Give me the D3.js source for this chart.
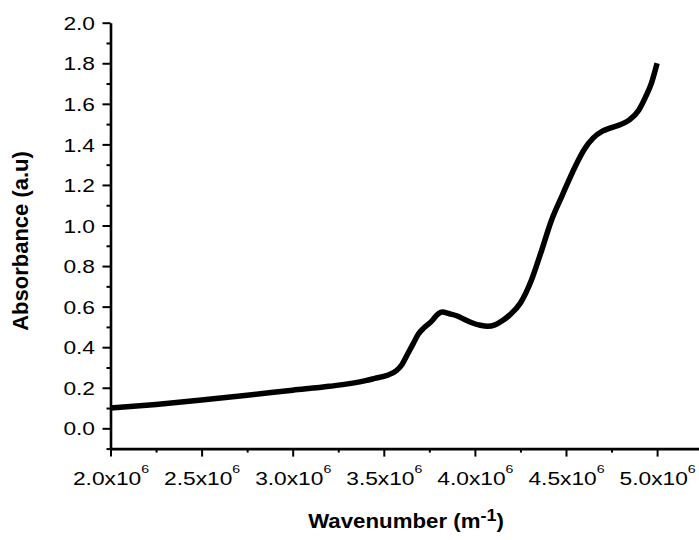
<!DOCTYPE html>
<html>
<head>
<meta charset="utf-8">
<script src="https://cdn.jsdelivr.net/npm/d3@7"></script>
<style>
  html, body { margin: 0; padding: 0; background: #fff; }
  svg { display: block; }
  text { font-family: "Liberation Sans", Arial, sans-serif; fill: #000; }
</style>
</head>
<body>
<div id="chart"></div>
<script>
/* ── Data ── */
const wavenumber = [2.00e6, 2.25e6, 2.50e6, 2.75e6, 3.00e6, 3.20e6, 3.40e6, 3.45e6, 3.52e6, 3.57e6,
                    3.60e6, 3.63e6, 3.66e6, 3.69e6, 3.72e6, 3.76e6, 3.80e6, 3.82e6, 3.86e6, 3.90e6,
                    3.94e6, 3.98e6, 4.03e6, 4.07e6, 4.11e6, 4.15e6, 4.19e6, 4.25e6, 4.31e6, 4.36e6,
                    4.42e6, 4.48e6, 4.55e6, 4.60e6, 4.65e6, 4.70e6, 4.75e6, 4.80e6, 4.85e6, 4.90e6,
                    4.94e6, 4.97e6, 5.00e6];
const absorbance = [0.100, 0.118, 0.140, 0.163, 0.188, 0.207, 0.235, 0.246, 0.262, 0.285,
                    0.315, 0.365, 0.415, 0.465, 0.495, 0.526, 0.565, 0.573, 0.565, 0.555,
                    0.538, 0.522, 0.508, 0.503, 0.510, 0.530, 0.558, 0.618, 0.730, 0.860,
                    1.025, 1.150, 1.290, 1.375, 1.432, 1.465, 1.483, 1.498, 1.522, 1.570,
                    1.640, 1.705, 1.800];

const xMajor = [2.0e6, 2.5e6, 3.0e6, 3.5e6, 4.0e6, 4.5e6, 5.0e6];
const xMinor = [2.25e6, 2.75e6, 3.25e6, 3.75e6, 4.25e6, 4.75e6];
const yMajor = [0.0, 0.2, 0.4, 0.6, 0.8, 1.0, 1.2, 1.4, 1.6, 1.8, 2.0];
const yMinor = [-0.1, 0.1, 0.3, 0.5, 0.7, 0.9, 1.1, 1.3, 1.5, 1.7, 1.9];
const xMantissa = ['2.0', '2.5', '3.0', '3.5', '4.0', '4.5', '5.0'];

const W = 699, H = 540;
const L = 110.5, R = 699, T = 22.7, B = 448.6;
const SX = 1.23;   // tick labels are drawn a bit wide

const x = d3.scaleLinear().domain([2.0e6, 5.23e6]).range([L, R]);
const y = d3.scaleLinear().domain([-0.1, 2.0]).range([B, T]);

const svg = d3.select('#chart').append('svg')
    .attr('width', W)
    .attr('height', H);

/* ── X axis ── */
const gx = svg.append('g').attr('transform', `translate(0,${B})`);
gx.call(d3.axisBottom(x).tickValues(xMajor).tickSize(8).tickSizeOuter(0).tickFormat(() => ''));
gx.append('g').call(d3.axisBottom(x).tickValues(xMinor).tickSize(4).tickSizeOuter(0).tickFormat(() => ''))
    .select('.domain').remove();

gx.selectAll('.tick').filter(d => xMajor.includes(d)).each(function(d) {
    const i = xMajor.indexOf(d);
    const t = d3.select(this).select('text')
        .attr('y', 36.4).attr('dy', null)
        .attr('text-anchor', 'middle')
        .attr('transform', `scale(${SX},1)`)
        .style('font-size', '18.5px');
    t.append('tspan').text(xMantissa[i] + 'x10');
    t.append('tspan').attr('dy', -12).style('font-size', '11.5px').text('6');
});

/* ── Y axis ── */
const gy = svg.append('g').attr('transform', `translate(${L},0)`);
gy.call(d3.axisLeft(y).tickValues(yMajor).tickSize(8).tickSizeOuter(0).tickFormat(d3.format('.1f')));
gy.append('g').call(d3.axisLeft(y).tickValues(yMinor).tickSize(4).tickSizeOuter(0).tickFormat(() => ''))
    .select('.domain').remove();

gy.selectAll('.tick text')
    .attr('x', -15.5 / SX)
    .attr('dy', '0.36em')
    .attr('transform', `scale(${SX},1)`)
    .style('font-size', '18.5px');

svg.selectAll('.domain').attr('stroke', '#000').attr('stroke-width', 2.6);
svg.selectAll('.tick line').attr('stroke', '#000').attr('stroke-width', 2);

/* ── Curve ── */
const pts = wavenumber.map((w, i) => [w, absorbance[i]]);
svg.append('path')
    .datum(pts)
    .attr('fill', 'none')
    .attr('stroke', '#000')
    .attr('stroke-width', 5.5)
    .attr('stroke-linejoin', 'round')
    .attr('d', d3.line().x(d => x(d[0])).y(d => y(d[1])).curve(d3.curveMonotoneX));

/* ── Titles ── */
const xt = svg.append('g').attr('transform', 'translate(406,528.3) scale(1.06,1)')
    .append('text')
    .attr('text-anchor', 'middle')
    .style('font-size', '21px')
    .style('font-weight', 'bold');
xt.append('tspan').text('Wavenumber (m');
xt.append('tspan').attr('dy', -7).style('font-size', '17px').text('-1');
xt.append('tspan').attr('dy', 7).text(')');

svg.append('text')
    .attr('transform', 'translate(28,241) rotate(-90)')
    .attr('text-anchor', 'middle')
    .style('font-size', '22px')
    .style('font-weight', 'bold')
    .text('Absorbance (a.u)');
</script>
</body>
</html>
